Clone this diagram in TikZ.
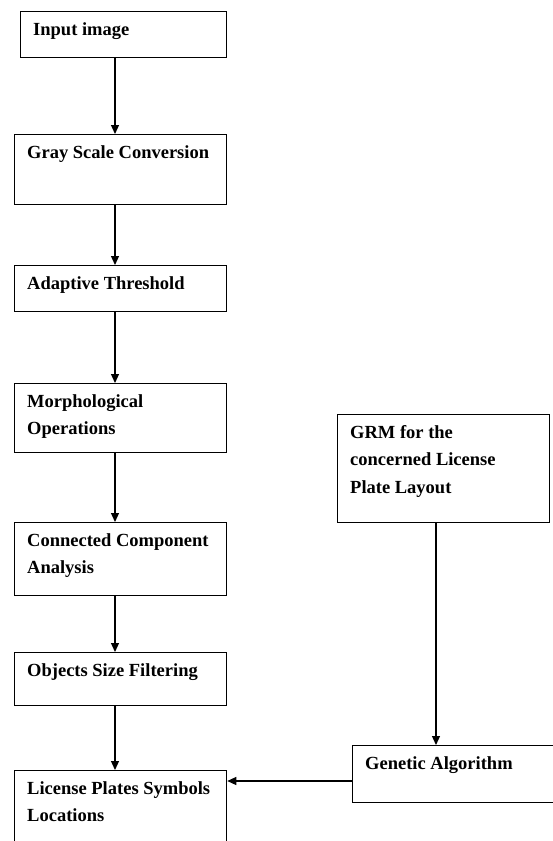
\documentclass[tikz,border=0pt]{standalone}
\usepackage{fontspec}
\setmainfont{Liberation Serif}
\usetikzlibrary{arrows.meta}

\begin{document}
\begin{tikzpicture}[x=1pt,y=-1pt]
    \tikzset{stage/.style={draw=black,line width=1.3pt,anchor=north west,minimum width=212pt,inner sep=0pt},
             stagetext/.style={anchor=north west,align=left,inner sep=0pt,xshift=13pt,yshift=-11pt,font=\bfseries\fontsize{18.5}{27.5}\selectfont},
             flow/.style={-{Triangle[length=9pt,width=8pt]},line width=1.2pt}}

    \useasboundingbox (0,0) rectangle (553,841);
    \clip (0,0) rectangle (553,841);

    \coordinate (spine) at (115,0);
    \coordinate (side) at (436,0);
    \coordinate (join) at (0,781);

    %main chain
    \node[stage,minimum width=206pt,minimum height=46pt,label={[stagetext]north west:Input image}] (input) at (20,11) {};
    \node[stage,minimum height=70pt,label={[stagetext]north west:Gray Scale Conversion}] (gray) at (14,134) {};
    \node[stage,minimum height=46pt,label={[stagetext]north west:Adaptive Threshold}] (adaptive) at (14,265) {};
    \node[stage,minimum height=69pt,label={[stagetext]north west:Morphological\\Operations}] (morph) at (14,383) {};
    \node[stage,minimum height=73pt,label={[stagetext]north west:Connected Component\\Analysis}] (connected) at (14,522) {};
    \node[stage,minimum height=53pt,label={[stagetext]north west:Objects Size Filtering}] (objects) at (14,652) {};
    \node[stage,minimum height=100pt,label={[stagetext]north west:License Plates Symbols\\Locations}] (license) at (14,770) {};

    %layout branch
    \node[stage,minimum height=108pt,label={[stagetext]north west:GRM for the\\concerned License\\Plate Layout}] (grm) at (337,414) {};
    \node[stage,minimum width=230pt,minimum height=57pt,label={[stagetext]north west:Genetic Algorithm}] (genetic) at (352,745) {};

    \draw[flow] (input.south -| spine) -- (gray.north -| spine);
    \draw[flow] (gray.south -| spine) -- (adaptive.north -| spine);
    \draw[flow] (adaptive.south -| spine) -- (morph.north -| spine);
    \draw[flow] (morph.south -| spine) -- (connected.north -| spine);
    \draw[flow] (connected.south -| spine) -- (objects.north -| spine);
    \draw[flow] (objects.south -| spine) -- (license.north -| spine);

    \draw[flow] (grm.south -| side) -- (genetic.north -| side);
    \draw[flow] (genetic.west |- join) -- (license.east |- join);
\end{tikzpicture}
\end{document}
